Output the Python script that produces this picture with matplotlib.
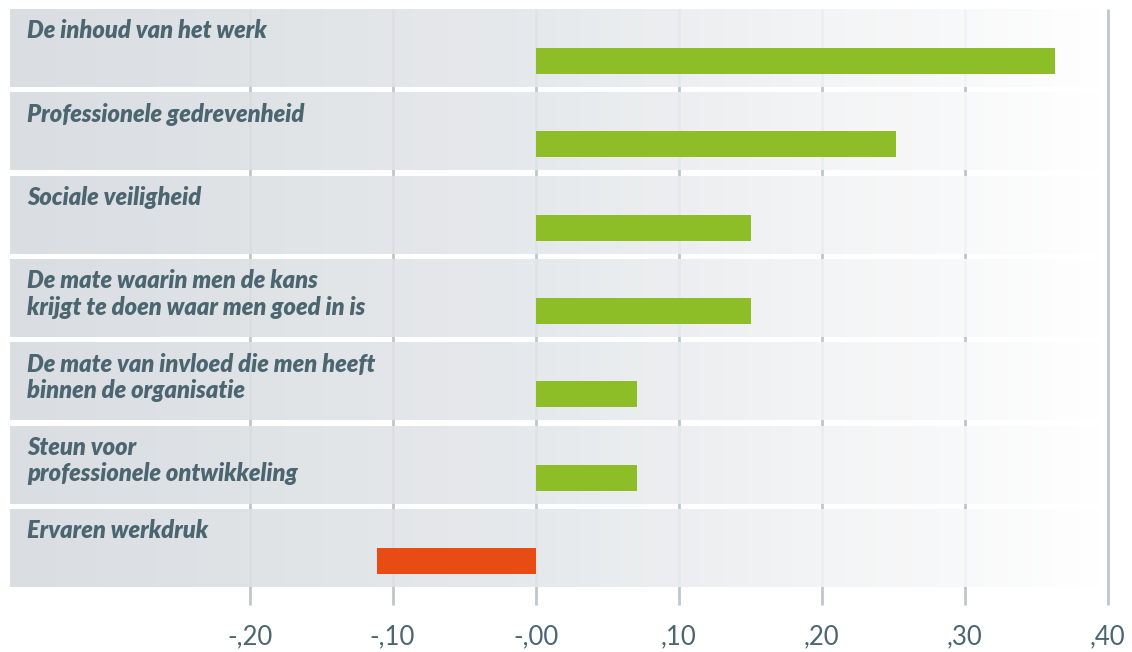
import numpy as np
import matplotlib.pyplot as plt
from matplotlib.colors import LinearSegmentedColormap

categories = [
    "De inhoud van het werk",
    "Professionele gedrevenheid",
    "Sociale veiligheid",
    "De mate waarin men de kans\nkrijgt te doen waar men goed in is",
    "De mate van invloed die men heeft\nbinnen de organisatie",
    "Steun voor\nprofessionele ontwikkeling",
    "Ervaren werkdruk",
]
values = [0.363, 0.252, 0.151, 0.151, 0.071, 0.071, -0.111]
tick_values = [-0.20, -0.10, 0.00, 0.10, 0.20, 0.30, 0.40]
tick_labels = ["-,20", "-,10", "-,00", ",10", ",20", ",30", ",40"]

GREEN = "#8dbd27"
ORANGE = "#e84b14"
TEXT = "#4b6670"
GRID = "#c0c7cc"

XLIM = (-0.3745, 0.4171)
YLIM = (7.248, -0.576)

fig = plt.figure(figsize=(11.32, 6.52), dpi=100)
ax = fig.add_axes([0, 0, 1, 1])
ax.axis("off")

band_left, band_right = -0.3675, 0.3990
band_h = 0.936
bar_h = 0.312
bar_off = 0.156

# vertical gridlines behind the bands
for t in tick_values:
    ax.plot([t, t], [-0.47, 6.685], color=GRID, lw=2.0, zorder=0,
            solid_capstyle="butt")

# row bands with a horizontal grey-to-white gradient
cmap = LinearSegmentedColormap.from_list("band", ["#d6dade", "#e5e8eb", "#ffffff"])
grad = np.linspace(0, 1, 256).reshape(1, -1)
n = len(categories)
for i in range(n):
    ax.imshow(grad, cmap=cmap, aspect="auto", alpha=0.9,
              extent=(band_left, band_right, i + band_h / 2, i - band_h / 2),
              zorder=1, interpolation="bilinear")

# bars
for i, v in enumerate(values):
    ax.barh(i + bar_off, v, height=bar_h, left=0,
            color=GREEN if v >= 0 else ORANGE, zorder=3)

# category labels
for i, label in enumerate(categories):
    ax.text(-0.3556, i - band_h / 2 + 0.125, label, ha="left", va="top",
            fontsize=17, fontweight="heavy", fontstyle="italic",
            family="Lato", color=TEXT, linespacing=1.17, zorder=4)

# axis tick labels
for t, lab in zip(tick_values, tick_labels):
    ax.text(t, 7.06, lab, ha="center", va="center", fontsize=18.5,
            family="Lato", fontweight="normal", color=TEXT)

ax.set_xlim(*XLIM)
ax.set_ylim(*YLIM)
fig.savefig("out.png", dpi=100)
